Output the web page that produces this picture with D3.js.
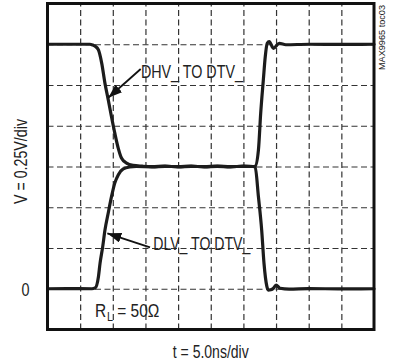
<!DOCTYPE html>
<html>
<head>
<meta charset="utf-8">
<script src="https://cdn.jsdelivr.net/npm/d3@7"></script>
<style>
  html, body { margin: 0; padding: 0; background: #fff; }
  svg { display: block; }
  .lbl { font-family: "Liberation Sans", Arial, Helvetica, sans-serif; fill: #222; }
</style>
</head>
<body>
<svg id="chart" width="393" height="364"></svg>
<script>
// Scope screen: 10 horizontal divisions of 5.0 ns, 8 vertical divisions of 0.25 V
const timeDomain = [0, 50];          // ns
const voltDomain = [-0.25, 1.75];    // V
const timeGrid = [5, 10, 15, 20, 25, 30, 35, 40, 45];
const voltGrid = [0, 0.25, 0.5, 0.75, 1.0, 1.25, 1.5];
const voltLabels = [0];

// DHV_ TO DTV_ trace: high -> mid level -> ground
const tDHV = [0, 3, 6.5, 6.9, 7.3, 7.8, 8.3, 8.8, 9.3, 9.8, 10.3, 10.85, 11.35, 12.1, 13.1, 14.5, 16, 18, 20, 22, 24, 26, 28, 30, 31.5, 31.8, 32.3, 32.8, 33.15, 33.6, 33.8, 34.2, 34.6, 35.0, 35.6, 37, 40, 45, 50];
const vDHV = [1.5, 1.5, 1.5, 1.496, 1.488, 1.465, 1.384, 1.26, 1.16, 1.055, 0.956, 0.86, 0.80, 0.771, 0.757, 0.752, 0.749, 0.752, 0.748, 0.751, 0.749, 0.752, 0.749, 0.751, 0.75, 0.747, 0.565, 0.36, 0.158, 0.013, -0.008, -0.006, 0.003, 0.023, 0.003, -0.002, 0.001, -0.001, 0];

// DLV_ TO DTV_ trace: ground -> mid level -> high
const tDLV = [0, 3, 6.8, 7.3, 7.8, 8.05, 8.45, 8.8, 9.3, 9.8, 10.3, 10.85, 11.6, 12.6, 13.6, 16, 18, 20, 22, 24, 26, 28, 30, 31.5, 31.8, 32.3, 32.65, 33.05, 33.35, 33.65, 33.95, 34.6, 35.5, 36.5, 40, 45, 50];
const vDLV = [0, 0.001, 0, 0.005, 0.074, 0.157, 0.257, 0.36, 0.465, 0.565, 0.648, 0.70, 0.735, 0.747, 0.75, 0.748, 0.751, 0.749, 0.752, 0.748, 0.751, 0.748, 0.752, 0.75, 0.752, 0.851, 1.078, 1.28, 1.425, 1.506, 1.516, 1.475, 1.506, 1.497, 1.5, 1.499, 1.5];

const svg = d3.select("#chart");
const plot = { left: 47.5, right: 374, top: 3.5, bottom: 329.5 };

const x = d3.scaleLinear().domain(timeDomain).range([plot.left, plot.right]);
const y = d3.scaleLinear().domain(voltDomain).range([plot.bottom, plot.top]);

// dashed graticule
const gridX = svg.append("g")
  .attr("transform", `translate(0,${plot.bottom})`)
  .call(d3.axisBottom(x).tickValues(timeGrid).tickSize(-(plot.bottom - plot.top)).tickFormat(""));
const gridY = svg.append("g")
  .attr("transform", `translate(${plot.left},0)`)
  .call(d3.axisLeft(y).tickValues(voltGrid).tickSize(-(plot.right - plot.left)).tickFormat(""));
[gridX, gridY].forEach(g => {
  g.select(".domain").remove();
  g.selectAll(".tick line")
    .attr("stroke", "#333")
    .attr("stroke-width", 1.2)
    .attr("stroke-dasharray", "6,3.5");
});

// zero label
const yLab = svg.append("g")
  .attr("transform", `translate(${plot.left},0)`)
  .call(d3.axisLeft(y).tickValues(voltLabels).tickSize(0).tickPadding(18).tickFormat(d3.format("d")));
yLab.select(".domain").remove();
yLab.selectAll("text").attr("class", "lbl").attr("font-size", 18).attr("dy", "0.36em")
  .attr("textLength", 8).attr("lengthAdjust", "spacingAndGlyphs");

// traces
const line = d3.line().x(d => x(d[0])).y(d => y(d[1])).curve(d3.curveMonotoneX);
const traces = [d3.zip(tDHV, vDHV), d3.zip(tDLV, vDLV)];
svg.append("g").selectAll("path").data(traces).join("path")
  .attr("d", line)
  .attr("fill", "none")
  .attr("stroke", "#1c1c1c")
  .attr("stroke-width", 3.2)
  .attr("stroke-linejoin", "round")
  .attr("stroke-linecap", "round");

// frame
svg.append("rect")
  .attr("x", plot.left).attr("y", plot.top)
  .attr("width", plot.right - plot.left).attr("height", plot.bottom - plot.top)
  .attr("fill", "none").attr("stroke", "#111").attr("stroke-width", 3);

// arrowhead
svg.append("defs").append("marker")
  .attr("id", "head").attr("markerUnits", "userSpaceOnUse")
  .attr("viewBox", "0 0 14 10").attr("refX", 14).attr("refY", 5)
  .attr("markerWidth", 14).attr("markerHeight", 10).attr("orient", "auto")
  .append("path").attr("d", "M0,0 L14,5 L0,10 Z").attr("fill", "#111");

// condensed label helper
function label(sel, txt, len, size) {
  return sel.append("text").attr("class", "lbl")
    .attr("font-size", size || 18)
    .attr("textLength", len).attr("lengthAdjust", "spacingAndGlyphs")
    .text(txt);
}

// trace callouts (anchors in ns / V)
const callouts = [
  { text: "DHV_ TO DTV_", at: [14.3, 1.296], from: [14.27, 1.348], to: [9.31, 1.172], len: 102 },
  { text: "DLV_ TO DTV_", at: [16.2, 0.235], from: [15.7, 0.254], to: [9.16, 0.340], len: 97 }
];
callouts.forEach(c => {
  svg.append("line")
    .attr("x1", x(c.from[0])).attr("y1", y(c.from[1]))
    .attr("x2", x(c.to[0])).attr("y2", y(c.to[1]))
    .attr("stroke", "#111").attr("stroke-width", 1.8)
    .attr("marker-end", "url(#head)");
  label(svg, c.text, c.len).attr("x", x(c.at[0])).attr("y", y(c.at[1]));
});

// load note: R with subscript L, narrowed horizontally as a group
const rl = svg.append("g")
  .attr("transform", `translate(${x(7.27)},${y(-0.171)}) scale(0.86,1)`)
  .append("text").attr("class", "lbl").attr("font-size", 18);
rl.append("tspan").text("R");
rl.append("tspan").attr("font-size", 12.5).attr("dx", 1).attr("dy", 4).text("L");
rl.append("tspan").attr("dy", -4).text(" = 50Ω");

// axis scale captions
label(svg, "t = 5.0ns/div", 76)
  .attr("x", (plot.left + plot.right) / 2 - 38).attr("y", 358);
label(svg, "V = 0.25V/div", 85)
  .attr("transform", `translate(27,${(plot.top + plot.bottom) / 2 - 5 + 42.5}) rotate(-90)`);

// figure tag
label(svg, "MAX9965 toc03", 65, 9)
  .attr("transform", "translate(385,70) rotate(-90)")
  .attr("fill", "#444");
</script>
</body>
</html>
